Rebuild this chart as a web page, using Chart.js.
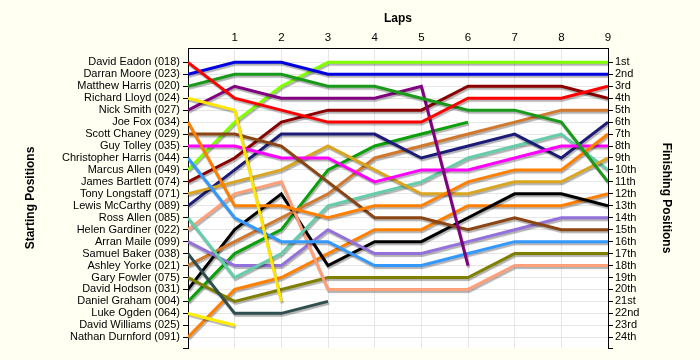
<!DOCTYPE html>
<html>
<head>
<meta charset="utf-8">
<script src="https://cdn.jsdelivr.net/npm/chart.js@4.4.0/dist/chart.umd.min.js"></script>
<style>
  body { margin: 0; background: #fffff2; }
  #wrap { width: 700px; height: 360px; }
</style>
</head>
<body>
<div id="wrap"><canvas id="lapChart"></canvas></div>
<script>
// laps and axis labels
const laps = [0, 1, 2, 3, 4, 5, 6, 7, 8, 9];
const startLabels = ["David Eadon (018)", "Darran Moore (023)", "Matthew Harris (020)", "Richard Lloyd (024)",
  "Nick Smith (027)", "Joe Fox (034)", "Scott Chaney (029)", "Guy Tolley (035)", "Christopher Harris (044)",
  "Marcus Allen (049)", "James Bartlett (074)", "Tony Longstaff (071)", "Lewis McCarthy (089)", "Ross Allen (085)",
  "Helen Gardiner (022)", "Arran Maile (099)", "Samuel Baker (038)", "Ashley Yorke (021)", "Gary Fowler (075)",
  "David Hodson (031)", "Daniel Graham (004)", "Luke Ogden (064)", "David Williams (025)", "Nathan Durnford (091)"];
const finishLabels = ["1st", "2nd", "3rd", "4th", "5th", "6th", "7th", "8th", "9th", "10th", "11th", "12th",
  "13th", "14th", "15th", "16th", "17th", "18th", "19th", "20th", "21st", "22nd", "23rd", "24th"];

// position at each lap (null = retired)
const eadon     = [1, 4, 5, 6, 6, 6, 4, 4, 4, 3];
const moore     = [2, 1, 1, 2, 2, 2, 2, 2, 2, 2];
const mHarris   = [3, 2, 2, 3, 3, 4, 5, 5, 6, 11];
const lloyd     = [4, 5, 21, null, null, null, null, null, null, null];
const smith     = [5, 3, 4, 4, 4, 3, 18, null, null, null];
const fox       = [6, 13, 13, 14, 13, 13, 11, 10, 10, 7];
const chaney    = [7, 7, 8, 11, 14, 14, 15, 14, 15, 15];
const tolley    = [8, 8, 9, 9, 11, 10, 10, 9, 8, 8];
const cHarris   = [9, 14, 16, 16, 18, 18, 17, 16, 16, 16];
const allenM    = [10, 6, 3, 1, 1, 1, 1, 1, 1, 1];
const bartlett  = [11, 9, 6, 5, 5, 5, 3, 3, 3, 4];
const longstaff = [12, 11, 10, 8, 10, 12, 12, 11, 11, 9];
const mccarthy  = [13, 10, 7, 7, 7, 9, 8, 7, 9, 6];
const allenR    = [14, 19, 17, 13, 12, 11, 9, 8, 7, 10];
const gardiner  = [15, 12, 11, 20, 20, 20, 20, 18, 18, 18];
const maile     = [16, 18, 18, 15, 17, 17, 16, 15, 14, 14];
const baker     = [17, 22, 22, 21, null, null, null, null, null, null];
const yorke     = [18, 16, 14, 12, 9, 8, 7, 6, 5, 5];
const fowler    = [19, 21, 20, 19, 19, 19, 19, 17, 17, 17];
const hodson    = [20, 15, 12, 18, 16, 16, 14, 12, 12, 13];
const graham    = [21, 17, 15, 10, 8, 7, 6, null, null, null];
const ogden     = [22, 23, null, null, null, null, null, null, null, null];
const williams  = [23, null, null, null, null, null, null, null, null, null];
const durnford  = [24, 20, 19, 17, 15, 15, 13, 13, 13, 12];

const series = [eadon, moore, mHarris, lloyd, smith, fox, chaney, tolley, cHarris, allenM, bartlett, longstaff,
  mccarthy, allenR, gardiner, maile, baker, yorke, fowler, hodson, graham, ogden, williams, durnford];
const colours = ["#ff0000", "#0000e0", "#1a9a1a", "#ffe600", "#800080", "#ff7f00", "#8b4513", "#ff00ff",
  "#3399ff", "#80ff00", "#8b0000", "#daa520", "#1c1c78", "#66cdaa", "#ffa07a", "#9370db", "#2f4f4f",
  "#d2782d", "#808000", "#000000", "#0aa00a", "#ffee00", "#999999", "#ff8000"];

const datasets = [];
for (let i = 0; i < series.length; i++) {
  datasets.push({
    label: startLabels[i],
    data: laps.map((l, j) => ({x: l, y: series[i][j]})),
    borderColor: colours[i],
    borderWidth: 3,
    pointRadius: 0,
    tension: 0,
    fill: false,
    yAxisID: 'y'
  });
}

const bgPlugin = {
  id: 'bg',
  beforeDraw(chart) {
    const {ctx, chartArea} = chart;
    ctx.save();
    ctx.fillStyle = '#fffff2';
    ctx.fillRect(0, 0, chart.width, chart.height);
    ctx.fillStyle = '#ffffff';
    ctx.fillRect(chartArea.left, chartArea.top, chartArea.right - chartArea.left, chartArea.bottom - chartArea.top);
    ctx.restore();
  }
};

// soft grey shadow under each line
const shadowPlugin = {
  id: 'shadow',
  beforeDatasetDraw(chart) {
    const ctx = chart.ctx;
    ctx.save();
    ctx.shadowColor = 'rgba(0,0,0,0.3)';
    ctx.shadowOffsetX = 1;
    ctx.shadowOffsetY = 2;
    ctx.shadowBlur = 1;
  },
  afterDatasetDraw(chart) {
    chart.ctx.restore();
  }
};

const posTicks = (scale) => {
  scale.ticks = startLabels.map((_, i) => ({value: i + 1}));
  scale.ticks.push({value: 24.9});
};

const font = {family: 'Liberation Sans, Arial, sans-serif', size: 11};
const titleFont = {family: 'Liberation Sans, Arial, sans-serif', size: 12, weight: 'bold'};

new Chart(document.getElementById('lapChart'), {
  type: 'line',
  data: {datasets: datasets},
  options: {
    responsive: true,
    maintainAspectRatio: false,
    animation: false,
    layout: {padding: {bottom: 12}},
    plugins: {legend: {display: false}, tooltip: {enabled: false}},
    scales: {
      x: {
        type: 'linear',
        position: 'top',
        min: 0,
        max: 9,
        afterBuildTicks: (scale) => { scale.ticks = laps.map(v => ({value: v})); },
        afterFit: (scale) => { scale.height = 48; },
        ticks: {
          font: {family: 'Liberation Sans, Arial, sans-serif', size: 11.5},
          color: '#000',
          padding: 3,
          callback: (v) => v === 0 ? '' : String(v)
        },
        grid: {color: '#e6e6e6', drawTicks: false},
        border: {color: '#000'},
        title: {display: true, text: 'Laps', font: titleFont, color: '#000', padding: {top: 11, bottom: 0}}
      },
      y: {
        type: 'linear',
        position: 'left',
        reverse: true,
        min: -0.2,
        max: 24.9,
        afterBuildTicks: posTicks,
        afterFit: (scale) => { scale.width = 188; },
        ticks: {
          font: font,
          color: '#000',
          padding: 3,
          autoSkip: false,
          callback: (v) => startLabels[v - 1] || ''
        },
        grid: {color: (c) => c.tick && c.tick.value > 24 ? 'rgba(0,0,0,0)' : '#e6e6e6', tickColor: '#000', tickLength: 5},
        border: {color: '#000'},
        title: {display: true, text: 'Starting Positions', font: titleFont, color: '#000', padding: {top: 23, bottom: 0}}
      },
      y2: {
        type: 'linear',
        position: 'right',
        reverse: true,
        min: -0.2,
        max: 24.9,
        afterBuildTicks: posTicks,
        afterFit: (scale) => { scale.width = 92; },
        ticks: {
          font: font,
          color: '#000',
          padding: 2,
          autoSkip: false,
          callback: (v) => finishLabels[v - 1] || ''
        },
        grid: {drawOnChartArea: false, tickColor: '#000', tickLength: 5},
        border: {color: '#000'},
        title: {display: true, text: 'Finishing Positions', font: titleFont, color: '#000', padding: {top: 26, bottom: 0}}
      }
    }
  },
  plugins: [bgPlugin, shadowPlugin]
});
</script>
</body>
</html>
